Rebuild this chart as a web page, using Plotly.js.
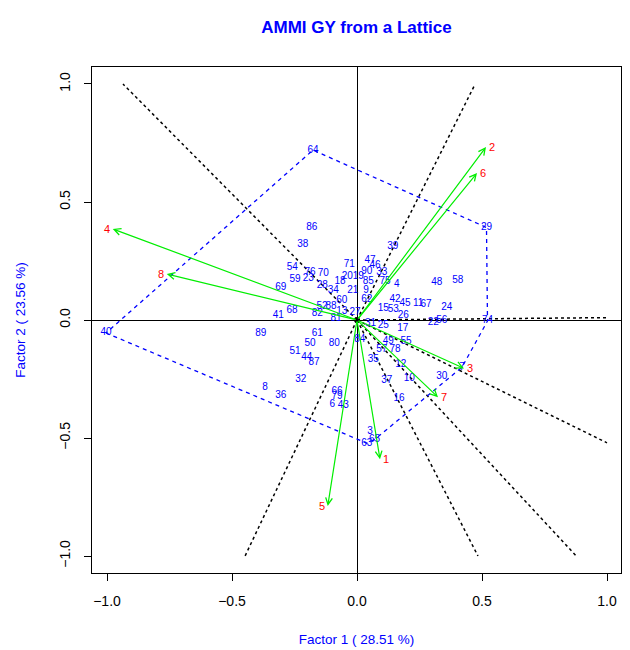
<!DOCTYPE html>
<html><head><meta charset="utf-8">
<script src="https://cdn.plot.ly/plotly-3.0.1.min.js"></script>
<style>body{margin:0;background:#fff}</style>
</head><body>
<div id="chart" style="width:630px;height:650px"></div>
<script>
const genoNames = ["86","38","54","76","70","59","23","28","18","34","71","20","19","47","46","90","33","85","75","39","4","21","9","62","60","69","68","41","82","52","88","13","81","27","15","53","42","45","26","11","67","48","58","24","22","56","29","74","40","64","17","31","25","84","49","55","78","57","35","12","37","10","30","16","3","63","65","89","61","50","80","51","44","87","32","8","36","66","79","6","43","7"];
const genoX = [-0.181,-0.217,-0.259,-0.188,-0.135,-0.248,-0.195,-0.139,-0.068,-0.095,-0.031,-0.039,0.005,0.052,0.072,0.039,0.099,0.045,0.112,0.143,0.159,-0.017,0.036,0.039,-0.061,-0.305,-0.260,-0.315,-0.159,-0.140,-0.104,-0.061,-0.084,-0.008,0.105,0.145,0.152,0.192,0.185,0.245,0.276,0.319,0.403,0.359,0.305,0.339,0.518,0.522,-1.004,-0.176,0.183,0.054,0.105,0.011,0.125,0.196,0.152,0.099,0.065,0.175,0.119,0.209,0.339,0.168,0.052,0.039,0.070,-0.385,-0.159,-0.188,-0.091,-0.248,-0.201,-0.172,-0.225,-0.368,-0.305,-0.080,-0.080,-0.099,-0.055,0.420];
const genoY = [0.393,0.318,0.223,0.202,0.198,0.172,0.177,0.148,0.162,0.127,0.236,0.183,0.183,0.251,0.233,0.205,0.200,0.162,0.165,0.311,0.151,0.123,0.123,0.085,0.082,0.137,0.040,0.021,0.028,0.057,0.057,0.038,0.006,0.030,0.050,0.045,0.085,0.071,0.021,0.071,0.064,0.160,0.167,0.052,-0.010,0.000,0.392,-0.004,-0.055,0.720,-0.034,-0.014,-0.023,-0.083,-0.092,-0.093,-0.124,-0.127,-0.169,-0.188,-0.258,-0.247,-0.240,-0.332,-0.473,-0.522,-0.507,-0.059,-0.059,-0.099,-0.099,-0.134,-0.158,-0.181,-0.254,-0.285,-0.322,-0.303,-0.326,-0.356,-0.364,-0.200];

const envNames = ["1","2","3","4","5","6","7","8"];
const envX = [0.092,0.516,0.428,-0.977,-0.117,0.480,0.324,-0.761];
const envY = [-0.590,0.733,-0.205,0.386,-0.788,0.623,-0.327,0.195];

const tickVals = [-1,-0.5,0,0.5,1];
const titleText = "AMMI GY from a Lattice";
const xTitle = "Factor 1 ( 28.51 %)";
const yTitle = "Factor 2 ( 23.56 %)";

const FONT = "Liberation Sans, Arial, sans-serif";

// convex hull of genotype scores (monotone chain)
function convexHull(xs, ys){
  const p = xs.map((x,i)=>[x, ys[i]]).sort((a,b)=>a[0]-b[0]||a[1]-b[1]);
  const cross=(o,a,b)=>(a[0]-o[0])*(b[1]-o[1])-(a[1]-o[1])*(b[0]-o[0]);
  const lower=[]; for(const q of p){ while(lower.length>=2&&cross(lower[lower.length-2],lower[lower.length-1],q)<=0) lower.pop(); lower.push(q);}
  const upper=[]; for(let i=p.length-1;i>=0;i--){const q=p[i]; while(upper.length>=2&&cross(upper[upper.length-2],upper[upper.length-1],q)<=0) upper.pop(); upper.push(q);}
  upper.pop(); lower.pop();
  return lower.concat(upper);
}
const H = convexHull(genoX, genoY);
const hullX = H.map(p=>p[0]).concat([H[0][0]]);
const hullY = H.map(p=>p[1]).concat([H[0][1]]);

// perpendicular lines from origin to each hull side
const sepX=[], sepY=[];
for(let i=0;i<H.length;i++){
  const a=H[i], b=H[(i+1)%H.length];
  let nx=b[1]-a[1], ny=-(b[0]-a[0]);
  if(nx*a[0]+ny*a[1]<0){nx=-nx;ny=-ny;}
  const s=1/Math.max(Math.abs(nx),Math.abs(ny));
  sepX.push(0,nx*s,null); sepY.push(0,ny*s,null);
}

const traces = [
  {x:sepX, y:sepY, mode:'lines', line:{color:'#000', width:1.5, dash:'3px,3px'}, hoverinfo:'skip', showlegend:false},
  {x:hullX, y:hullY, mode:'lines', line:{color:'#0000ff', width:1.3, dash:'4px,4px'}, hoverinfo:'skip', showlegend:false},
  {x:genoX, y:genoY, text:genoNames, mode:'text', textposition:'middle center',
   textfont:{family:FONT, size:10, color:'#0000ff'}, hoverinfo:'text', showlegend:false},
  {x:[0], y:[0], mode:'markers', marker:{color:'#000', size:6}, hoverinfo:'skip', showlegend:false}
];

const annotations = [];
envNames.forEach((n,i)=>{
  annotations.push({x:envX[i], y:envY[i], ax:0, ay:0, xref:'x', yref:'y', axref:'x', ayref:'y',
    text:'', showarrow:true, arrowhead:5, arrowsize:1.1, arrowwidth:1.2, arrowcolor:'#00ee00', standoff:0, startstandoff:0});
});
envNames.forEach((n,i)=>{
  const right = envX[i] >= 0;
  annotations.push({x:envX[i], y:envY[i], xref:'x', yref:'y', text:n, showarrow:false,
    xanchor: right?'left':'right', xshift: right?1:-1, yanchor:'middle',
    font:{family:FONT, size:11, color:'#ff0000'}});
});

const axisCommon = {
  tickvals: tickVals, tickformat:'.1f', showgrid:false,
  zeroline:true, zerolinecolor:'#000', zerolinewidth:1,
  showline:true, mirror:true, linecolor:'#000', linewidth:1,
  ticks:'outside', ticklen:7, tickcolor:'#000', tickwidth:1,
  ticklabelstandoff:8,
  tickfont:{family:FONT, size:14, color:'#000'}
};

const layout = {
  width:630, height:650,
  margin:{l:92, r:9, t:67, b:77},
  paper_bgcolor:'#fff', plot_bgcolor:'#fff',
  showlegend:false,
  title:{text:'<b>'+titleText+'</b>', font:{family:FONT, size:17, color:'#0000ff'},
         x:0.5, xref:'paper', y:1-27/650, yref:'container', yanchor:'middle'},
  xaxis: Object.assign({}, axisCommon, {range:[-1.06,1.056],
    title:{text:xTitle, font:{family:FONT, size:13.5, color:'#0000ff'}, standoff:26}}),
  yaxis: Object.assign({}, axisCommon, {range:[-1.072,1.072], tickangle:-90,
    title:{text:yTitle, font:{family:FONT, size:13.5, color:'#0000ff'}, standoff:28}}),
  annotations: annotations
};

Plotly.newPlot('chart', traces, layout, {displayModeBar:false, staticPlot:true});
</script>
</body></html>
